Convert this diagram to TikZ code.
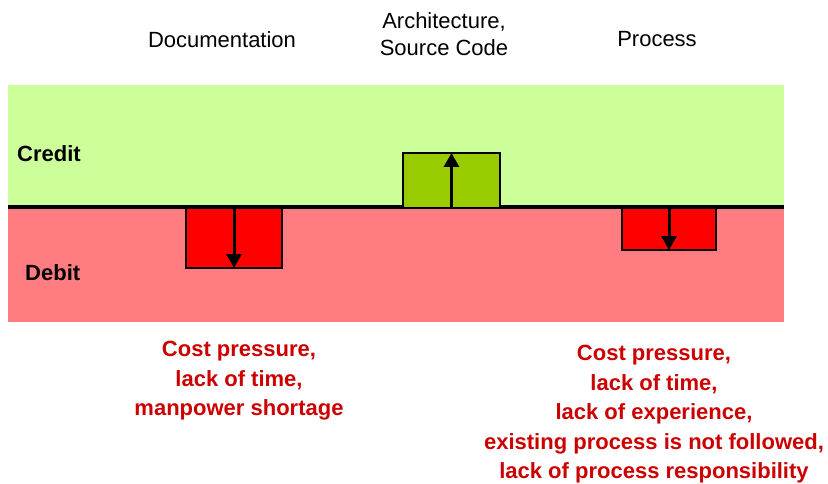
\documentclass[tikz,border=0pt]{standalone}
\usepackage{fontspec}
\setmainfont{Liberation Sans}
\usetikzlibrary{arrows.meta}

\definecolor{creditbg}{HTML}{CCFF99}
\definecolor{debitbg}{HTML}{FF7C80}
\definecolor{lossbox}{HTML}{FF0000}
\definecolor{gainbox}{HTML}{99CC00}
\definecolor{causered}{HTML}{CC0000}

\tikzset{
  area/.style={font=\fontsize{22}{27.5}\selectfont, inner sep=0pt, align=center, anchor=north},
  side/.style={font=\fontsize{22}{26}\selectfont\bfseries, inner sep=0pt, anchor=base west},
  cause/.style={font=\fontsize{22}{29.5}\selectfont\bfseries, text=causered, inner sep=0pt, align=center, anchor=north},
  balance/.style={draw=black, line width=2pt, inner sep=0pt, anchor=north west},
  movearrow/.style={line width=3pt, -{Triangle[length=14pt,width=15pt]}, shorten >=1pt},
}

\begin{document}
\begin{tikzpicture}[x=1pt, y=-1pt]
  \useasboundingbox (0,0) rectangle (828,484);

  % credit and debit bands with the zero line between them
  \fill[creditbg] (8,85) rectangle (784,207);
  \fill[debitbg] (8,207) rectangle (784,322);
  \coordinate (zeroL) at (8,207);
  \coordinate (zeroR) at (784,207);
  \draw[line width=4pt] (zeroL) -- (zeroR);

  % area headings
  \node[area] (doc) at (222,31) {Documentation};
  \node[area] (arch) at (444,12) {Architecture,\\Source Code};
  \node[area] (proc) at (657,31) {Process};

  % side labels
  \node[side] (credit) at (17,162) {Credit};
  \node[side] (debit) at (25,280) {Debit};

  % balance boxes
  \node[balance, fill=lossbox, minimum width=96pt, minimum height=60pt] (docbox) at (185,207) {};
  \node[balance, fill=gainbox, minimum width=97pt, minimum height=55pt] (archbox) at (402,152) {};
  \node[balance, fill=lossbox, minimum width=94pt, minimum height=42pt] (procbox) at (621,207) {};

  \draw[movearrow] (docbox.north) -- (docbox.south);
  \draw[movearrow] (archbox.south) -- (archbox.north);
  \draw[movearrow] (procbox.north) -- (procbox.south);

  % causes
  \node[cause] (doccause) at (239,341) {Cost pressure,\\lack of time,\\manpower shortage};
  \node[cause] (proccause) at (654,345) {Cost pressure,\\lack of time,\\lack of experience,\\existing process is not followed,\\lack of process responsibility};
\end{tikzpicture}
\end{document}
